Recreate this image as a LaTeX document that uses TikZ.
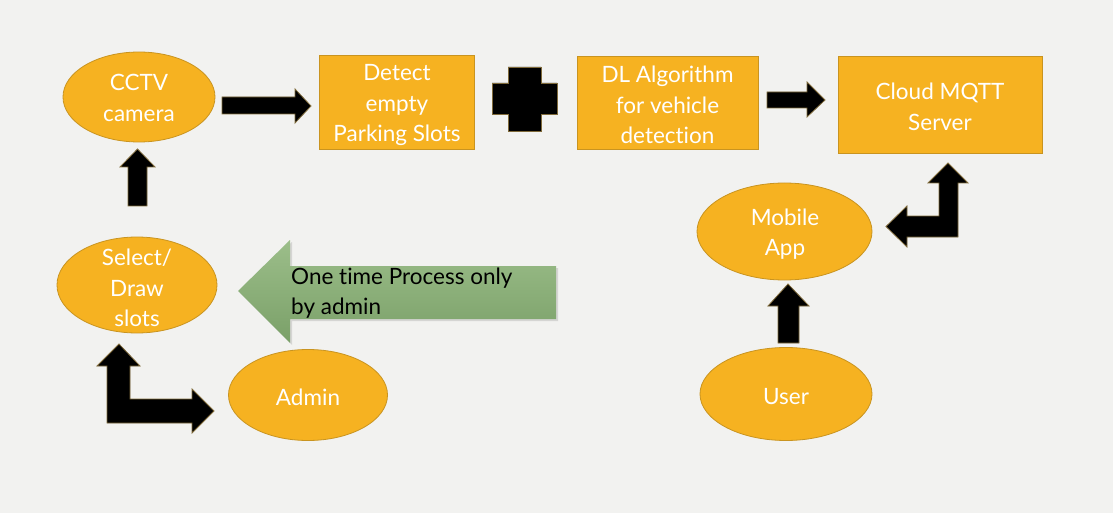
\documentclass[tikz,border=0pt]{standalone}
\usepackage{fontspec}
\setmainfont{Lato}[Ligatures={NoCommon}]
\usetikzlibrary{shapes.geometric,shadows}
\definecolor{bg}{HTML}{F2F2F0}
\definecolor{orng}{HTML}{F6B221}
\definecolor{orngb}{HTML}{C99420}
\definecolor{arrb}{HTML}{7F6A3A}
\definecolor{grnT}{HTML}{9CBE8A}
\definecolor{grnB}{HTML}{7AA068}
\begin{document}
\begin{tikzpicture}[x=1pt,y=-1pt,
  oval/.style={ellipse, draw=orngb, fill=orng, line width=0.8pt, inner sep=0pt},
  box/.style={rectangle, draw=orngb, fill=orng, line width=0.8pt, inner sep=0pt},
  wtext/.style={text=white, align=center, inner sep=0pt, font=\fontsize{22.5}{30.5}\selectfont},
  blk/.style={fill=black, draw=arrb, line width=0.8pt, line join=miter}]
\fill[bg] (0,0) rectangle (1113,513);
\useasboundingbox (0,0) rectangle (1113,513);

% ellipses
\node[oval, minimum width=152pt, minimum height=90pt] (cctv) at (139,97) {};
\node[wtext] (cctvT) at (139,98) {CCTV\\camera};
\node[oval, minimum width=160pt, minimum height=96pt] (sel) at (137,285) {};
\node[wtext] (selT) at (137,288) {Select/\\Draw\\slots};
\node[oval, minimum width=159pt, minimum height=91pt] (admin) at (308,395) {};
\node[wtext] (adminT) at (308,397) {Admin};
\node[oval, minimum width=175pt, minimum height=97pt] (mob) at (784.5,231.5) {};
\node[wtext] (mobT) at (785,234) {Mobile\\App};
\node[oval, minimum width=172pt, minimum height=93pt] (user) at (786,394) {};
\node[wtext] (userT) at (786,397) {User};

% boxes
\node[box, minimum width=155pt, minimum height=94pt] (det) at (396.5,102) {};
\node[wtext] (detT) at (397,105) {Detect\\empty\\Parking Slots};
\node[box, minimum width=181pt, minimum height=93pt] (dl) at (667.5,102.5) {};
\node[wtext] (dlT) at (667.5,105) {DL Algorithm\\for vehicle\\detection};
\node[box, minimum width=204pt, minimum height=97pt] (cloud) at (940,104.5) {};
\node[wtext] (cloudT) at (940,107) {Cloud MQTT\\Server};

% block arrows
\draw[blk] (222,97) -- (295,97) -- (295,89) -- (311,106) -- (295,123) -- (295,114) -- (222,114) -- cycle;
\draw[blk] (128,206) -- (128,167) -- (120,167) -- (137.5,149) -- (155,167) -- (147,167) -- (147,206) -- cycle;
\draw[blk] (508,67) -- (541,67) -- (541,83) -- (557,83) -- (557,114) -- (541,114) -- (541,131) -- (508,131) -- (508,114) -- (492,114) -- (492,83) -- (508,83) -- cycle;
\draw[blk] (767,92) -- (807,92) -- (807,82) -- (825,100) -- (807,117) -- (807,108) -- (767,108) -- cycle;
\draw[blk] (107,366) -- (97,366) -- (119,344) -- (140,366) -- (130,366) -- (130,399) -- (192,399) -- (192,389) -- (214,411) -- (192,433) -- (192,423) -- (107,423) -- cycle;
\draw[blk] (939,183) -- (928,183) -- (948,163) -- (968,183) -- (958,183) -- (958,237) -- (907,237) -- (907,247) -- (886,226.5) -- (907,206) -- (907,216) -- (939,216) -- cycle;
\draw[blk] (778,343) -- (778,306) -- (768,306) -- (788,284) -- (809,306) -- (799,306) -- (799,343) -- cycle;

% green arrow
\path[top color=grnT, bottom color=grnB, drop shadow={shadow xshift=2pt, shadow yshift=-2pt, opacity=0.25}]
  (238,291) -- (290,240) -- (290,266) -- (556,266) -- (556,319) -- (290,319) -- (290,343) -- cycle;
\node[anchor=west, align=left, inner sep=0pt, font=\fontsize{22.5}{29.5}\selectfont] (note) at (291,293) {One time Process only\\by admin};
\end{tikzpicture}
\end{document}
